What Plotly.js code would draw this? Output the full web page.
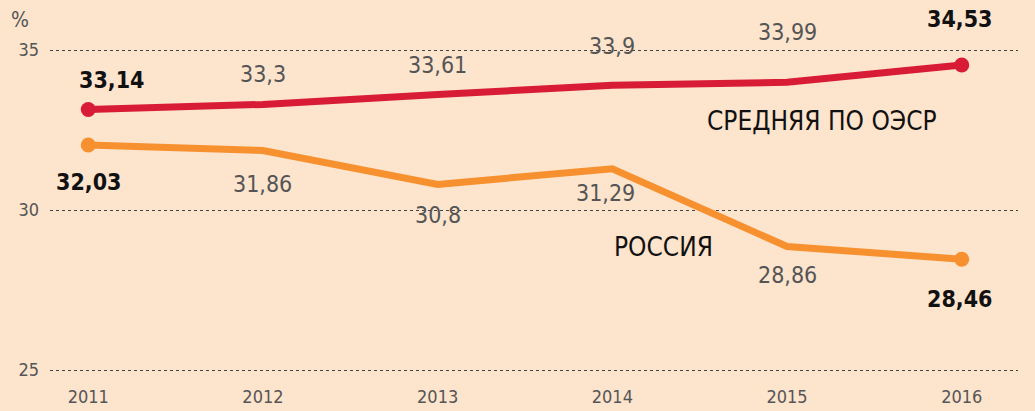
<!DOCTYPE html>
<html><head><meta charset="utf-8">
<script src="https://cdn.plot.ly/plotly-3.0.1.min.js"></script>
<style>html,body{margin:0;padding:0;background:#fde4cd;}#chart{width:1035px;height:411px;}</style>
</head><body><div id="chart"></div>
<script>
const years = [2011, 2012, 2013, 2014, 2015, 2016];
const oecd = [33.14, 33.3, 33.61, 33.9, 33.99, 34.53];
const russia = [32.03, 31.86, 30.8, 31.29, 28.86, 28.46];
const oecdName = 'СРЕДНЯЯ ПО ОЭСР';
const russiaName = 'РОССИЯ';
const yTicks = [25, 30, 35];

const fmt = v => String(v).replace('.', ',');
const FONT = '"DejaVu Sans Condensed", "Liberation Sans Narrow", Roboto, sans-serif';

// label offsets (pixels) — styling only
const oecdShift = [[23, 30], [0, 30], [0, 29], [0, 39], [0, 50], [-2, 46]];
const russiaShift = [[0, -37], [0, -34], [0, -31], [-7, -24], [0, -29], [-2, -40]];

const traces = [
  {x: years, y: oecd, type: 'scatter', mode: 'lines', line: {color: '#d81c36', width: 7}, hoverinfo: 'skip'},
  {x: [years[0], years[years.length-1]], y: [oecd[0], oecd[oecd.length-1]], type: 'scatter', mode: 'markers', marker: {color: '#d81c36', size: 15}, hoverinfo: 'skip'},
  {x: years, y: russia, type: 'scatter', mode: 'lines', line: {color: '#f7912f', width: 7}, hoverinfo: 'skip'},
  {x: [years[0], years[years.length-1]], y: [russia[0], russia[russia.length-1]], type: 'scatter', mode: 'markers', marker: {color: '#f7912f', size: 15}, hoverinfo: 'skip'}
];

const ann = [];
function addLabels(vals, shifts) {
  vals.forEach((v, i) => {
    const bold = (i === 0 || i === vals.length - 1);
    ann.push({x: years[i], y: v, xref: 'x', yref: 'y', text: bold ? '<b>' + fmt(v) + '</b>' : fmt(v),
      showarrow: false, xshift: shifts[i][0], yshift: shifts[i][1],
      font: {family: FONT, size: 23, color: bold ? '#111' : '#555'}});
  });
}
addLabels(oecd, oecdShift);
addLabels(russia, russiaShift);
ann.push({x: 2015.2, y: oecd[4], xref: 'x', yref: 'y', text: oecdName, showarrow: false, yshift: -39,
  font: {family: FONT, size: 26, color: '#111'}});
ann.push({x: 2014.29, y: russia[3], xref: 'x', yref: 'y', text: russiaName, showarrow: false, yshift: -78,
  font: {family: FONT, size: 26, color: '#111'}});
ann.push({x: -30/968, y: 1 - 20/372, xref: 'paper', yref: 'paper', text: '%', showarrow: false, xanchor: 'center', yanchor: 'middle',
  font: {family: FONT, size: 21, color: '#555'}});

const layout = {
  width: 1035, height: 411,
  margin: {l: 50, r: 17, t: 0, b: 39},
  paper_bgcolor: '#fde4cd', plot_bgcolor: '#fde4cd',
  showlegend: false,
  xaxis: {range: [2010.781, 2016.322], tickvals: years, ticktext: years.map(String), showgrid: false, zeroline: false,
    showline: false, ticks: '', ticklabelstandoff: 12, tickfont: {family: FONT, size: 18, color: '#555'}, fixedrange: true},
  yaxis: {range: [24.9375, 36.5625], tickvals: yTicks, ticktext: yTicks.map(String), showgrid: true, gridcolor: '#444',
    griddash: 'dot', gridwidth: 1, zeroline: false, showline: false, ticks: '', ticklabelstandoff: 10,
    tickfont: {family: FONT, size: 18, color: '#555'}, fixedrange: true},
  annotations: ann
};
Plotly.newPlot('chart', traces, layout, {displayModeBar: false, staticPlot: true});
</script></body></html>
